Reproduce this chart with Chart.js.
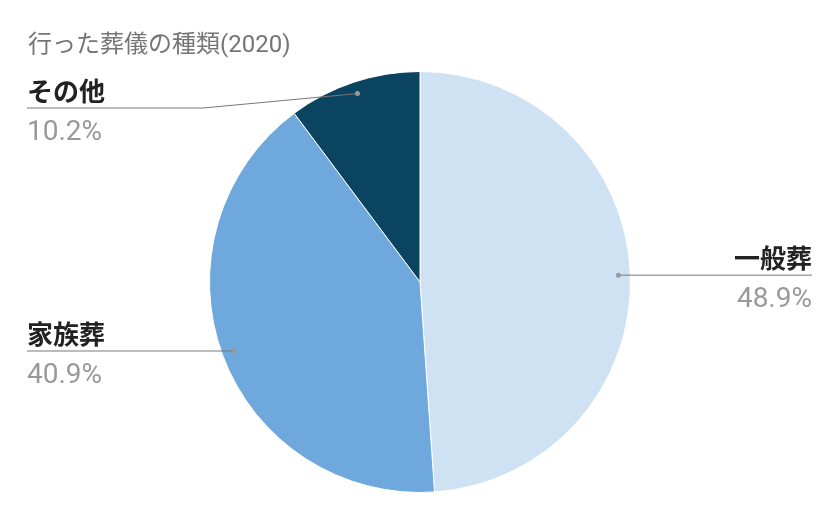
<!DOCTYPE html>
<html>
<head>
<meta charset="utf-8">
<script src="https://cdn.jsdelivr.net/npm/chart.js@4"></script>
<style>
  html, body { margin: 0; padding: 0; background: #fff; }
  #wrap { width: 840px; height: 519px; position: relative; }
</style>
</head>
<body>
<div id="wrap"><canvas id="pie"></canvas></div>
<script>
const labels = ["一般葬", "家族葬", "その他"];
const values = [48.9, 40.9, 10.2];
const colors = ["#cfe2f3", "#6fa8dc", "#0b4461"];
const chartTitle = "行った葬儀の種類(2020)";

const FONT = "Roboto, 'Noto Sans CJK JP', sans-serif";

// title + leader lines + labels, google-charts style
const leaderLabels = {
  id: "leaderLabels",
  afterDatasetsDraw(chart) {
    const c = chart.ctx;
    const meta = chart.getDatasetMeta(0);
    const left = 27, right = 812;

    c.save();
    c.fillStyle = "#757575";
    c.font = "24px " + FONT;
    c.textAlign = "left";
    c.textBaseline = "alphabetic";
    c.fillText(chartTitle, 28, 52);
    c.restore();

    meta.data.forEach((arc, i) => {
      const mid = (arc.startAngle + arc.endAngle) / 2;
      const r = arc.outerRadius - 12;
      const dx = arc.x + Math.cos(mid) * r;
      const dy = arc.y + Math.sin(mid) * r;
      const onRight = Math.cos(mid) > 0;
      let lineY = Math.max(dy, 108);
      let elbowX = onRight ? dx : (lineY === dy ? dx : 203);
      c.save();
      c.strokeStyle = "#777";
      c.lineWidth = 1;
      c.beginPath();
      c.moveTo(dx, dy);
      c.lineTo(elbowX, lineY);
      c.lineTo(onRight ? right : left, lineY);
      c.stroke();
      c.fillStyle = "#999";
      c.beginPath();
      c.arc(dx, dy, 2.5, 0, Math.PI * 2);
      c.fill();
      c.textAlign = onRight ? "right" : "left";
      c.textBaseline = "alphabetic";
      c.fillStyle = "#222";
      c.font = "bold 26px " + FONT;
      c.fillText(labels[i], onRight ? right : left, lineY - 7);
      c.fillStyle = "#999";
      c.font = "28px " + FONT;
      c.fillText(values[i].toFixed(1) + "%", onRight ? right : left, lineY + 32);
      c.restore();
    });
  }
};

new Chart(document.getElementById("pie"), {
  type: "pie",
  data: {
    labels: labels,
    datasets: [
      {
        data: values,
        backgroundColor: colors,
        borderColor: "#fff",
        borderWidth: 1,
      },
    ],
  },
  options: {
    responsive: true,
    maintainAspectRatio: false,
    animation: false,
    layout: {
      padding: { top: 71, bottom: 26, left: 0, right: 0 },
    },
    plugins: {
      legend: { display: false },
      tooltip: { enabled: false },
      title: { display: false },
    },
  },
  plugins: [leaderLabels],
});
</script>
</body>
</html>
